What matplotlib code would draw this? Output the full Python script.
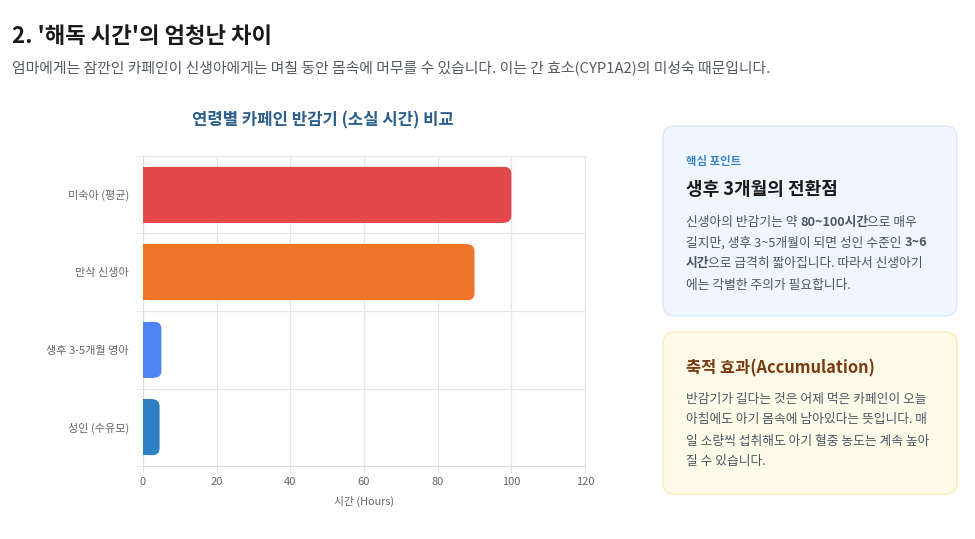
import matplotlib
matplotlib.use('Agg')
import matplotlib.pyplot as plt
from matplotlib.patches import FancyBboxPatch, Rectangle

plt.rcParams['font.family'] = ['Noto Sans CJK KR', 'DejaVu Sans']

# data
categories = ['미숙아 (평균)', '만삭 신생아', '생후 3-5개월 영아', '성인 (수유모)']
half_life = [100, 90, 5, 4.5]
bar_colors = ['#e3494b', '#ef7626', '#4e85f4', '#2e80c4']
xticks = [0, 20, 40, 60, 80, 100, 120]

W, H = 975, 539
fig = plt.figure(figsize=(W / 100, H / 100), dpi=100)
fig.patch.set_facecolor('white')


def fy(py):
    return 1 - py / H


def fx(px):
    return px / W


# header
fig.text(fx(12), fy(36), "2. '해독 시간'의 엄청난 차이", fontsize=16, fontweight='bold',
         color='#1a1a1a', va='center')
fig.text(fx(12), fy(68), '엄마에게는 잠깐인 카페인이 신생아에게는 며칠 동안 몸속에 머무를 수 있습니다. '
         '이는 간 효소(CYP1A2)의 미성숙 때문입니다.', fontsize=10.7, color='#555b63', va='center')

# chart
ax = fig.add_axes([fx(143), fy(466), fx(585) - fx(143), (466 - 156) / H])
ax.set_xlim(0, 120)
ax.set_ylim(len(categories) - 0.5, -0.5)
ax.set_xticks(xticks)
ax.set_yticks(range(len(categories)))
ax.set_yticklabels(categories)
ax.set_yticks([i - 0.5 for i in range(len(categories) + 1)], minor=True)
ax.tick_params(axis='y', which='major', length=0, pad=10, labelsize=8, labelcolor='#666666')
ax.tick_params(axis='y', which='minor', length=6, color='#e6e6e6')
ax.tick_params(axis='x', length=5, color='#e6e6e6', labelsize=8, labelcolor='#666666', pad=3)
ax.grid(True, axis='x', color='#e6e6e6', lw=0.9)
ax.grid(True, axis='y', which='minor', color='#e6e6e6', lw=0.9)
ax.set_axisbelow(True)
for s in ax.spines.values():
    s.set_color('#e6e6e6')
ax.spines['left'].set_color('#dddddd')
ax.spines['bottom'].set_color('#dddddd')
ax.set_xlabel('시간 (Hours)', fontsize=7.8, color='#666666', labelpad=6)
fig.text(fx(323), fy(120), '연령별 카페인 반감기 (소실 시간) 비교', fontsize=12, fontweight='bold',
         color='#2c5f8c', ha='center', va='center')

bh = 0.72
r = 1.9  # corner radius in x units
aspect = (442 / 120) / (310 / 4)
for i, (v, c) in enumerate(zip(half_life, bar_colors)):
    ax.add_patch(FancyBboxPatch((0, i - bh / 2), v, bh,
                                boxstyle='round,pad=0,rounding_size=%f' % r,
                                mutation_aspect=aspect, fc=c, ec='none', zorder=3))
    ax.add_patch(Rectangle((0, i - bh / 2), v - r, bh, fc=c, ec='none', zorder=3))

# cards
def card(x0, y0, x1, y1, fc, ec):
    p = FancyBboxPatch((fx(x0), fy(y1)), fx(x1) - fx(x0), fy(y0) - fy(y1),
                       boxstyle='round,pad=0,rounding_size=0.012', transform=fig.transFigure,
                       fc=fc, ec=ec, lw=1, mutation_aspect=W / H)
    fig.patches.append(p)


card(663, 126, 957, 316, '#eff6fd', '#dbe9fb')
card(663, 332, 957, 494, '#fefbe9', '#fcecb8')

renderer = fig.canvas.get_renderer()


def text_w(txt, size, weight):
    # wrap in bars so spaces at the ends count
    t1 = fig.text(0, 0, '|' + txt + '|', fontsize=size, fontweight=weight)
    t2 = fig.text(0, 0, '||', fontsize=size, fontweight=weight)
    w = t1.get_window_extent(renderer=renderer).width - t2.get_window_extent(renderer=renderer).width
    t1.remove()
    t2.remove()
    return w


def runs(px, py, parts, size=9.2, color='#4b5563'):
    x = px
    for txt, bold in parts:
        wt = 'bold' if bold else 'normal'
        fig.text(fx(x), fy(py), txt, fontsize=size, color=color, va='center', fontweight=wt)
        x += text_w(txt, size, wt) - (1.5 if bold else 0)


fig.text(fx(686), fy(161), '핵심 포인트', fontsize=8.2, fontweight='bold', color='#3a82c4', va='center')
fig.text(fx(686), fy(190), '생후 3개월의 전환점', fontsize=13, fontweight='bold', color='#1a1a1a', va='center')
runs(686, 222, [('신생아의 반감기는 약 ', False), ('80~100시간', True), ('으로 매우', False)])
runs(686, 243, [('길지만, 생후 3~5개월이 되면 성인 수준인 ', False), ('3~6', True)])
runs(686, 264, [('시간', True), ('으로 급격히 짧아집니다. 따라서 신생아기', False)])
runs(686, 285, [('에는 각별한 주의가 필요합니다.', False)])

fig.text(fx(686), fy(368), '축적 효과(Accumulation)', fontsize=11.8, fontweight='bold', color='#7c3a12', va='center')
runs(686, 399, [('반감기가 길다는 것은 어제 먹은 카페인이 오늘', False)])
runs(686, 420, [('아침에도 아기 몸속에 남아있다는 뜻입니다. 매', False)])
runs(686, 441, [('일 소량씩 섭취해도 아기 혈중 농도는 계속 높아', False)])
runs(686, 462, [('질 수 있습니다.', False)])

fig.savefig('out.png', dpi=100, facecolor='white')
